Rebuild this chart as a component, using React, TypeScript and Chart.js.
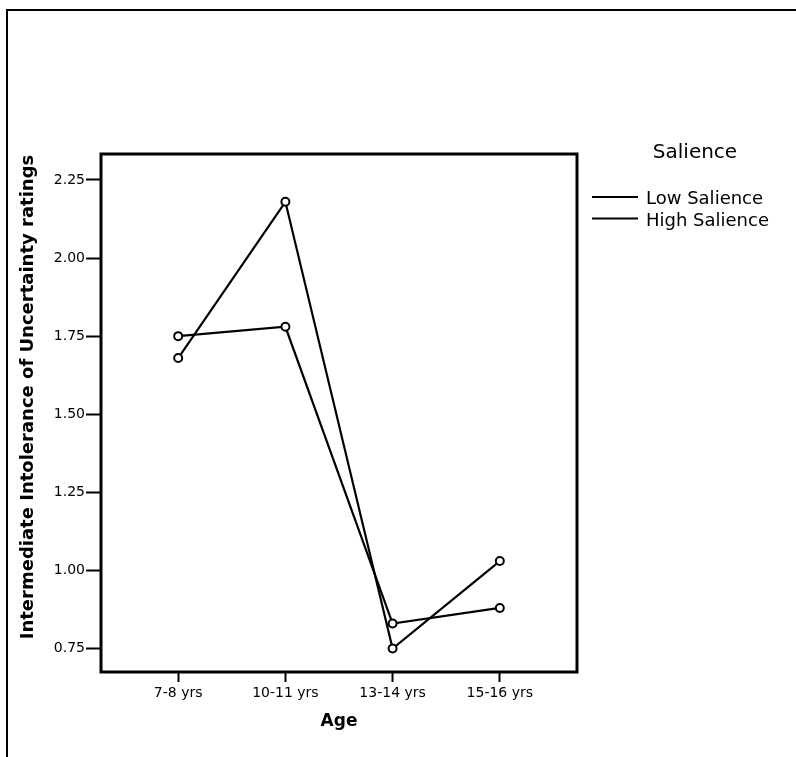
import React, { useEffect, useRef } from "react";
import { Chart, registerables } from "chart.js";

Chart.register(...registerables);

const ageGroups = ["7-8 yrs", "10-11 yrs", "13-14 yrs", "15-16 yrs"];
const lowSalience = [1.75, 1.78, 0.83, 0.88];
const highSalience = [1.68, 2.18, 0.75, 1.03];
const yTickValues = [0.75, 1.0, 1.25, 1.5, 1.75, 2.0, 2.25];
const seriesNames = ["Low Salience", "High Salience"];
const legendTitle = "Salience";
const xTitle = "Age";
const yTitle = "Intermediate Intolerance of Uncertainty ratings";

const FONT = "'DejaVu Sans', sans-serif";

const decor = {
  id: "decor",
  afterDraw(chart: any) {
    const ctx = chart.ctx as CanvasRenderingContext2D;
    const { left, top, right, bottom } = chart.chartArea;
    ctx.save();
    ctx.strokeStyle = "#000";
    ctx.fillStyle = "#000";
    // outer frame (top + left)
    ctx.lineWidth = 2;
    ctx.beginPath();
    ctx.moveTo(7, 757);
    ctx.lineTo(7, 10);
    ctx.lineTo(796, 10);
    ctx.stroke();
    // plot box
    ctx.lineWidth = 3;
    ctx.strokeRect(left, top, right - left, bottom - top);
    // y axis title
    ctx.save();
    ctx.translate(28, 397);
    ctx.rotate(-Math.PI / 2);
    ctx.font = `bold 18px ${FONT}`;
    ctx.textAlign = "center";
    ctx.textBaseline = "middle";
    ctx.fillText(yTitle, 0, 0);
    ctx.restore();
    // legend
    ctx.font = `20px ${FONT}`;
    ctx.textAlign = "center";
    ctx.textBaseline = "middle";
    ctx.fillText(legendTitle, 695, 153);
    ctx.font = `18px ${FONT}`;
    ctx.textAlign = "left";
    chart.data.datasets.forEach((ds: any, i: number) => {
      const y = 197 + i * 21.5;
      ctx.lineWidth = 2;
      ctx.beginPath();
      ctx.moveTo(592, y);
      ctx.lineTo(638, y);
      ctx.stroke();
      ctx.fillText(ds.label, 646, y + 2.5);
    });
    ctx.restore();
  },
};

export default function App() {
  const ref = useRef<HTMLCanvasElement>(null);

  useEffect(() => {
    if (!ref.current) return;
    Chart.defaults.font.family = FONT;
    Chart.defaults.color = "#000";
    const toPts = (arr: number[]) => arr.map((v, i) => ({ x: i, y: v }));
    const common = {
      borderColor: "#000",
      borderWidth: 2.2,
      pointRadius: 4,
      pointBorderWidth: 2,
      pointBorderColor: "#000",
      pointBackgroundColor: "#fff",
      tension: 0,
      fill: false,
    };
    const chart = new Chart(ref.current, {
      type: "line",
      data: {
        datasets: [
          { label: seriesNames[0], data: toPts(lowSalience), ...common },
          { label: seriesNames[1], data: toPts(highSalience), ...common },
        ],
      },
      options: {
        responsive: false,
        animation: false,
        layout: { padding: { left: 0, top: 154, right: 219, bottom: 0 } },
        plugins: {
          legend: { display: false },
          tooltip: { enabled: false },
        },
        scales: {
          x: {
            type: "linear",
            min: -0.72,
            max: 3.72,
            afterBuildTicks: (scale: any) => {
              scale.ticks = ageGroups.map((_, i) => ({ value: i }));
            },
            afterFit: (scale: any) => {
              scale.height = 85;
            },
            ticks: {
              autoSkip: false,
              maxRotation: 0,
              padding: 3,
              font: { size: 14 },
              color: "#000",
              callback: (v: any) => ageGroups[v] ?? "",
            },
            grid: {
              drawOnChartArea: false,
              drawTicks: true,
              tickLength: 10,
              tickWidth: 2,
              tickColor: "#000",
            },
            border: { display: false },
            title: {
              display: true,
              text: xTitle,
              font: { size: 17, weight: "bold" },
              color: "#000",
              padding: { top: 0, bottom: 25 },
            },
          },
          y: {
            type: "linear",
            min: 0.675,
            max: 2.333,
            afterBuildTicks: (scale: any) => {
              scale.ticks = yTickValues.map((v) => ({ value: v }));
            },
            afterFit: (scale: any) => {
              scale.width = 101;
            },
            ticks: {
              padding: 1,
              font: { size: 14 },
              color: "#000",
              callback: (v: any) => Number(v).toFixed(2),
            },
            grid: {
              drawOnChartArea: false,
              drawTicks: true,
              tickLength: 15,
              tickWidth: 2,
              tickColor: "#000",
            },
            border: { display: false },
            title: { display: false },
          },
        },
      },
      plugins: [decor],
    } as any);
    return () => chart.destroy();
  }, []);

  return (
    <div style={{ position: "absolute", left: 0, top: 0, width: 796, height: 757, background: "#fff" }}>
      <canvas ref={ref} width={796} height={757} style={{ display: "block" }} />
    </div>
  );
}
